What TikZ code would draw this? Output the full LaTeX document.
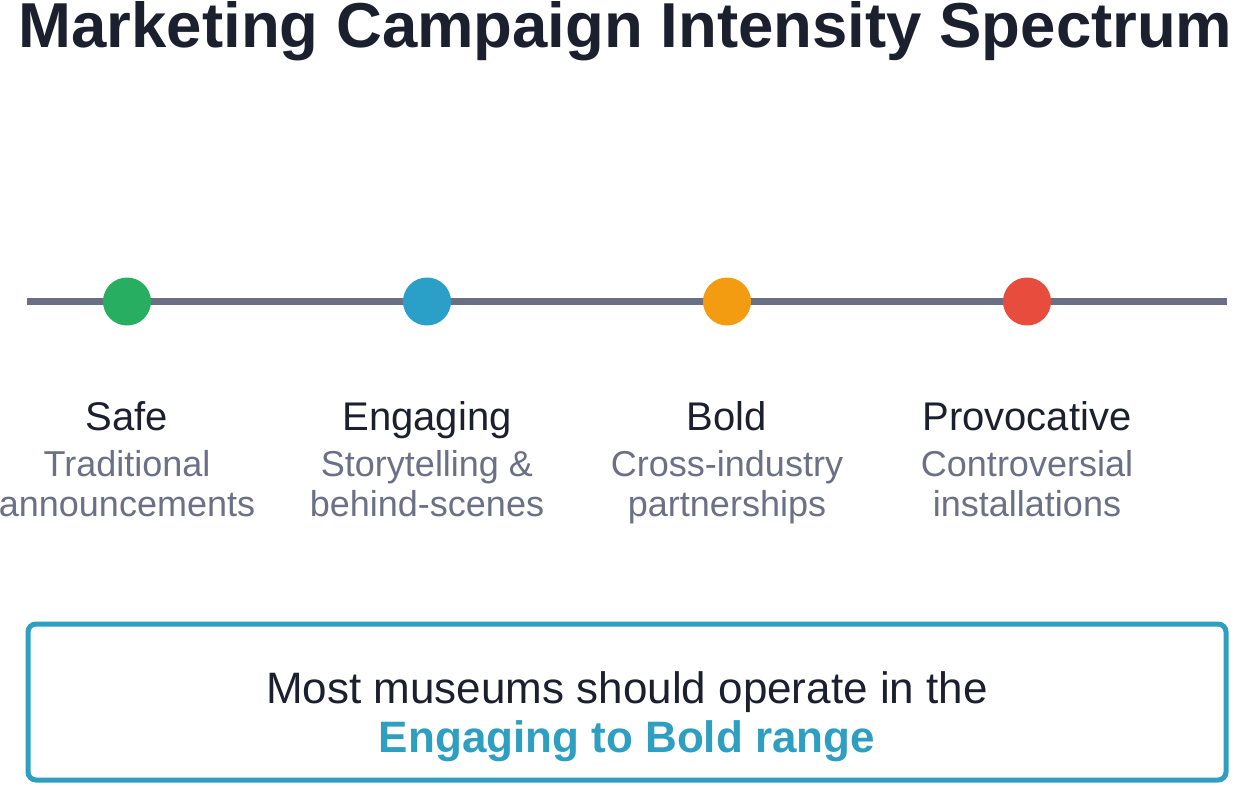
\documentclass[tikz,border=0pt]{standalone}
\usepackage{fontspec}
\setmainfont{Liberation Sans}
\usepackage{tikz}
\definecolor{ink}{HTML}{1B1F2E}
\definecolor{slate}{HTML}{6C7086}
\definecolor{rail}{HTML}{6B6F86}
\definecolor{safecol}{HTML}{27AE60}
\definecolor{engcol}{HTML}{2A9FC8}
\definecolor{boldcol}{HTML}{F39C12}
\definecolor{provcol}{HTML}{E74C3C}
\definecolor{accent}{HTML}{2E9FC0}

\begin{document}
\begin{tikzpicture}[x=1pt,y=-1pt,
stagedot/.style={circle,fill=#1,minimum size=48pt,inner sep=0pt},
stagelbl/.style={text=ink,font=\fontsize{40}{44}\selectfont,anchor=base,inner sep=0pt},
stagedesc/.style={text=slate,font=\fontsize{36}{39.5}\selectfont,align=center,anchor=base,inner sep=0pt},
msgline/.style={font=\fontsize{44}{49}\selectfont,anchor=base,inner sep=0pt}]
\useasboundingbox (0,0) rectangle (1235,785);
\node[anchor=base west,inner sep=0pt,text=ink,font=\bfseries\fontsize{63.5}{70}\selectfont] (title) at (18.5,47) {Marketing Campaign Intensity Spectrum};
% spectrum rail
\coordinate (railL) at (27,301.5);
\coordinate (railR) at (1227,301.5);
\draw[rail,line width=7pt] (railL) -- (railR);
\foreach \x/\col/\lab/\txt [count=\i] in %
{127/safecol/Safe/{Traditional\\announcements},
 427/engcol/Engaging/{Storytelling \&\\behind-scenes},
 727/boldcol/Bold/{Cross-industry\\partnerships},
 1027/provcol/Provocative/{Controversial\\installations}} {
   \node[stagedot=\col] (dot\i) at (\x,301.5) {};
   \node[stagelbl] (lbl\i) at (\x,430) {\lab};
   \node[stagedesc] (desc\i) at (\x,516) {\txt};
}
% recommendation box
\node[draw=accent,line width=5pt,rounded corners=8pt,minimum width=1198pt,minimum height=156pt] (note) at (627,702) {};
\node[msgline,text=ink] (msg1) at (627,703) {Most museums should operate in the};
\node[msgline,text=accent,font=\bfseries\fontsize{44}{49}\selectfont] (msg2) at (627,752) {Engaging to Bold range};
\end{tikzpicture}
\end{document}
